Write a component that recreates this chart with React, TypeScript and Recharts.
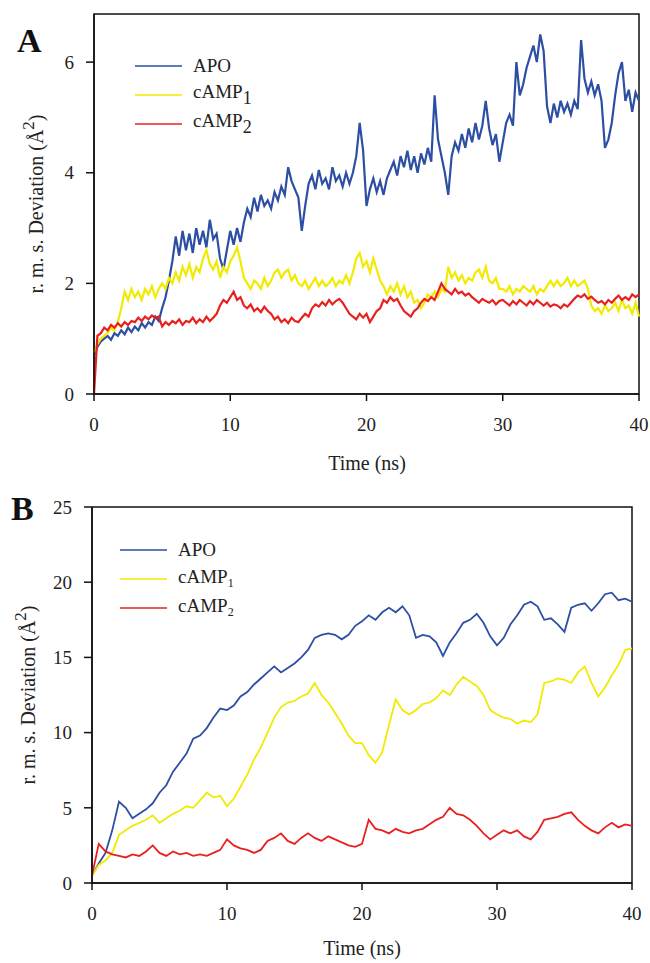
import { LineChart, Line, XAxis, YAxis, Legend, ReferenceArea, Label } from "recharts";

const FONT = "'Liberation Serif', 'Times New Roman', serif";
const BLUE = "#2c4fa3";
const YELLOW = "#f2ea00";
const RED = "#e8211f";

// panel A, sampled every 0.25 ns
const stepA = 0.25;
const apoA = [
  0.7, 0.85, 0.95, 1.0, 1.05, 0.98, 1.1, 1.05, 1.15, 1.08, 1.2, 1.12, 1.22, 1.15, 1.28, 1.2,
  1.3, 1.25, 1.4, 1.32, 1.55, 1.75, 2.05, 2.4, 2.85, 2.5, 2.95, 2.6, 2.9, 2.55, 3.0, 2.7,
  2.95, 2.65, 3.15, 2.8, 2.9, 2.45, 2.25, 2.6, 2.95, 2.7, 3.0, 2.75, 3.1, 3.35, 3.2, 3.55,
  3.3, 3.6, 3.4, 3.5, 3.35, 3.65, 3.5, 3.75, 3.6, 4.1, 3.85, 3.7, 3.55, 2.95, 3.4, 3.8,
  3.95, 3.7, 4.05, 3.8, 3.9, 3.7, 4.1, 3.85, 3.95, 3.75, 4.0, 3.8, 4.0, 4.3, 4.9, 4.4,
  3.4, 3.7, 3.9, 3.65, 3.85, 3.6, 3.9, 4.05, 4.2, 3.95, 4.3, 4.1, 4.4, 4.05, 4.3, 4.0,
  4.35, 4.15, 4.45, 4.2, 5.4, 4.6, 4.3, 4.0, 3.6, 4.3, 4.55, 4.4, 4.7, 4.45, 4.8, 4.55,
  4.9, 4.6, 4.85, 5.3, 4.8, 4.5, 4.7, 4.2, 4.55, 4.9, 5.05, 4.85, 6.0, 5.4, 5.6, 5.9,
  6.1, 6.3, 6.0, 6.5, 6.2, 5.2, 4.9, 5.25, 5.0, 5.3, 5.1, 5.25, 5.05, 5.3, 5.15, 6.4,
  5.7, 5.45, 5.65, 5.4, 5.6, 5.3, 4.45, 4.6, 4.9, 5.4, 5.8, 6.0, 5.3, 5.5, 5.1, 5.45,
  5.3,
];
const camp1A = [
  0.75, 0.9, 1.0, 1.05, 1.1, 1.2, 1.15, 1.3, 1.55, 1.85, 1.7, 1.9, 1.75, 1.85, 1.7, 1.9,
  1.8, 1.95, 1.75, 1.9, 2.0, 1.9, 2.1, 2.0, 2.2, 2.05, 2.3, 2.15, 2.35, 2.1, 2.3, 2.2,
  2.45, 2.6, 2.35, 2.25, 2.4, 2.1, 2.3, 2.2, 2.4, 2.5, 2.65, 2.4, 2.1, 2.0, 1.9, 2.05,
  2.0, 1.9, 2.1, 1.95, 2.05, 2.2, 2.25, 2.1, 2.2, 2.25, 2.05, 2.15, 2.0, 1.95, 2.05, 1.9,
  2.0, 2.1, 1.95, 2.05, 1.95, 2.0, 2.1, 1.95, 2.05, 2.0, 2.15, 2.0, 2.2, 2.45, 2.55, 2.3,
  2.4, 2.2, 2.45, 2.25, 2.05, 1.95, 1.8, 1.95, 1.85, 2.0, 1.8, 1.95, 1.75, 1.85, 1.65, 1.7,
  1.55, 1.65, 1.8, 1.75, 1.85, 1.75, 1.9, 1.85, 2.3, 2.1, 2.2, 2.05, 2.15, 2.0, 2.1, 2.05,
  2.2, 2.25, 2.1, 2.3, 2.05, 2.0, 2.1, 1.9, 1.9, 1.85, 1.95, 1.8, 1.9, 1.85, 1.95, 1.9,
  1.85, 1.95, 1.8, 1.9, 1.85, 1.95, 2.05, 1.95, 2.05, 1.95, 2.0, 2.1, 1.95, 2.05, 1.95, 2.0,
  2.05, 1.9, 1.6, 1.5, 1.55, 1.45, 1.6, 1.5, 1.55, 1.65, 1.5, 1.7, 1.55, 1.6, 1.45, 1.65,
  1.4,
];
const camp2A = [
  0.0, 1.05, 1.1, 1.2, 1.15, 1.25, 1.2, 1.28, 1.22, 1.3, 1.25, 1.32, 1.3, 1.38, 1.32, 1.4,
  1.35, 1.42, 1.38, 1.4, 1.22, 1.3, 1.25, 1.32, 1.28, 1.35, 1.25, 1.32, 1.3, 1.38, 1.28, 1.35,
  1.3, 1.4, 1.32, 1.38, 1.45, 1.6, 1.7, 1.65, 1.75, 1.85, 1.7, 1.75, 1.6, 1.55, 1.62, 1.5,
  1.55, 1.48, 1.58, 1.5, 1.45, 1.35, 1.4, 1.3, 1.35, 1.28, 1.38, 1.32, 1.3, 1.38, 1.45, 1.4,
  1.55, 1.62, 1.58, 1.66, 1.6, 1.7, 1.62, 1.68, 1.72, 1.65, 1.55, 1.45, 1.4, 1.35, 1.45, 1.38,
  1.45, 1.3, 1.4, 1.5, 1.55, 1.7, 1.65, 1.75, 1.68, 1.72, 1.6, 1.5, 1.45, 1.4, 1.5, 1.55,
  1.65, 1.72, 1.68, 1.75, 1.7, 1.85, 2.0, 1.9, 1.85, 1.8, 1.9, 1.82, 1.85, 1.78, 1.82, 1.75,
  1.7, 1.65, 1.72, 1.68, 1.65, 1.7, 1.62, 1.68, 1.7, 1.65, 1.6, 1.68, 1.62, 1.7, 1.65, 1.6,
  1.68, 1.62, 1.7, 1.65, 1.6, 1.65, 1.58, 1.62, 1.6, 1.55, 1.62, 1.58, 1.65, 1.72, 1.78, 1.75,
  1.8, 1.72, 1.76, 1.7, 1.65, 1.68, 1.62, 1.7, 1.65, 1.72, 1.78, 1.7, 1.75, 1.7, 1.8, 1.75,
  1.8,
];

// panel B, sampled every 0.5 ns
const stepB = 0.5;
const apoB = [
  0.5, 1.3, 2.0, 3.5, 5.4, 5.0, 4.3, 4.6, 4.9, 5.3, 6.0, 6.5, 7.4, 8.0, 8.6, 9.6,
  9.8, 10.3, 11.0, 11.6, 11.5, 11.8, 12.4, 12.7, 13.2, 13.6, 14.0, 14.4, 14.0, 14.3, 14.6, 15.0,
  15.5, 16.3, 16.5, 16.6, 16.5, 16.2, 16.5, 17.1, 17.4, 17.8, 17.5, 18.0, 18.3, 18.0, 18.4, 17.8,
  16.3, 16.5, 16.4, 16.0, 15.1, 16.0, 16.6, 17.3, 17.5, 17.9, 17.3, 16.4, 15.8, 16.3, 17.2, 17.8,
  18.5, 18.7, 18.4, 17.5, 17.6, 17.2, 16.7, 18.3, 18.5, 18.6, 18.1, 18.6, 19.2, 19.3, 18.8, 18.9,
  18.7,
];
const camp1B = [
  0.5, 1.2, 1.5, 2.0, 3.2, 3.5, 3.8, 4.0, 4.2, 4.5, 4.0, 4.3, 4.6, 4.8, 5.1, 5.0,
  5.5, 6.0, 5.7, 5.8, 5.1, 5.6, 6.4, 7.2, 8.2, 9.0, 10.0, 11.0, 11.7, 12.0, 12.1, 12.4,
  12.6, 13.3, 12.5, 12.0, 11.3, 10.6, 9.8, 9.3, 9.3, 8.5, 8.0, 8.7, 10.5, 12.2, 11.5, 11.2,
  11.5, 11.9, 12.0, 12.3, 12.8, 12.5, 13.2, 13.7, 13.4, 13.1, 12.5, 11.5, 11.2, 11.0, 10.9, 10.6,
  10.8, 10.7, 11.2, 13.3, 13.4, 13.6, 13.5, 13.3, 14.0, 14.4, 13.3, 12.4, 13.0, 13.8, 14.5, 15.5,
  15.6,
];
const camp2B = [
  0.5, 2.6, 2.1, 1.9, 1.8, 1.7, 1.9, 1.8, 2.1, 2.5, 2.0, 1.8, 2.1, 1.9, 2.0, 1.8,
  1.9, 1.8, 2.0, 2.2, 2.9, 2.5, 2.3, 2.2, 2.0, 2.2, 2.8, 3.0, 3.3, 2.8, 2.6, 3.0,
  3.3, 3.0, 2.8, 3.1, 2.9, 2.7, 2.5, 2.4, 2.6, 4.2, 3.6, 3.5, 3.3, 3.6, 3.4, 3.3,
  3.5, 3.6, 3.9, 4.2, 4.4, 5.0, 4.6, 4.5, 4.2, 3.8, 3.3, 2.9, 3.2, 3.5, 3.3, 3.5,
  3.1, 2.9, 3.4, 4.2, 4.3, 4.4, 4.6, 4.7, 4.2, 3.8, 3.5, 3.3, 3.7, 4.0, 3.7, 3.9,
  3.8,
];

const xTicks = [0, 10, 20, 30, 40];
const yTicksA = [0, 2, 4, 6];
const yTicksB = [0, 5, 10, 15, 20, 25];
const seriesKeys = ["apo", "camp1", "camp2"];
const seriesNames = ["APO", "cAMP", "cAMP"];
const seriesSubs = ["", "1", "2"];
const seriesColors = [BLUE, YELLOW, RED];

const buildRows = (step: number, a: number[], b: number[], c: number[]) =>
  a.map((v, i) => ({ t: i * step, apo: v, camp1: b[i], camp2: c[i] }));

const rowsA = buildRows(stepA, apoA, camp1A, camp2A);
const rowsB = buildRows(stepB, apoB, camp1B, camp2B);

const makeLegend = (smallSub: boolean) => (props: any) => (
  <div style={{ fontFamily: FONT }}>
    {(props.payload || []).map((p: any, i: number) => (
      <div key={i} style={{ display: "flex", alignItems: "center", height: 29 }}>
        <svg width={47} height={4}>
          <line x1={0} y1={2} x2={47} y2={2} stroke={p.color} strokeWidth={1.5} />
        </svg>
        <span style={{ marginLeft: 11, fontSize: 19, color: "#222", whiteSpace: "nowrap" }}>
          {seriesNames[i]}
          {seriesSubs[i] && (
            <sub style={{ fontSize: smallSub ? 12 : 18, verticalAlign: smallSub ? "-4px" : "-6px" }}>
              {seriesSubs[i]}
            </sub>
          )}
        </span>
      </div>
    ))}
  </div>
);

const yLabel = (cx: number, cy: number) => () => (
  <text
    x={cx}
    y={cy}
    transform={`rotate(-90 ${cx} ${cy})`}
    textAnchor="middle"
    dominantBaseline="middle"
    fontFamily={FONT}
    fontSize={20}
    fill="#222"
  >
    <tspan>r. m. s. Deviation (Å</tspan>
    <tspan dy={-8} fontSize={17}>2</tspan>
    <tspan dy={8}>)</tspan>
  </text>
);

const xLabel = (cx: number, cy: number) => () => (
  <text x={cx} y={cy} textAnchor="middle" dominantBaseline="middle" fontFamily={FONT} fontSize={20} fill="#222">
    Time (ns)
  </text>
);

type PanelProps = {
  rows: any[];
  yMax: number;
  yTicks: number[];
  margin: { top: number; right: number; bottom: number; left: number };
  legendPos: { left: number; top: number };
  yLab: [number, number];
  xLab: [number, number];
  smallSub: boolean;
  lineWidth: number;
};

const Panel = ({ rows, yMax, yTicks, margin, legendPos, yLab, xLab, smallSub, lineWidth }: PanelProps) => (
  <LineChart width={650} height={480} data={rows} margin={margin} style={{ fontFamily: FONT }}>
    <ReferenceArea x1={0} x2={40} y1={0} y2={yMax} fill="none" stroke="#111" strokeWidth={1.5} ifOverflow="extendDomain" />
    <XAxis
      dataKey="t"
      type="number"
      domain={[0, 40]}
      ticks={xTicks}
      height={50}
      axisLine={{ stroke: "#111", strokeWidth: 1.5 }}
      tickLine={{ stroke: "#111", strokeWidth: 1.5 }}
      tickSize={7}
      tickMargin={17}
      tick={{ fontSize: 19, fill: "#222", fontFamily: FONT }}
    >
      <Label content={xLabel(xLab[0], xLab[1])} />
    </XAxis>
    <YAxis
      type="number"
      domain={[0, yMax]}
      ticks={yTicks}
      width={40}
      axisLine={{ stroke: "#111", strokeWidth: 1.5 }}
      tickLine={{ stroke: "#111", strokeWidth: 1.5 }}
      tickSize={8}
      tickMargin={12}
      tick={{ fontSize: 19, fill: "#222", fontFamily: FONT }}
    >
      <Label content={yLabel(yLab[0], yLab[1])} />
    </YAxis>
    <Legend
      layout="vertical"
      align="center"
      verticalAlign="middle"
      content={makeLegend(smallSub)}
      wrapperStyle={{ left: legendPos.left, top: legendPos.top, width: 160 }}
    />
    {seriesKeys.map((k, i) => (
      <Line
        key={k}
        type="linear"
        dataKey={k}
        name={seriesNames[i] + seriesSubs[i]}
        stroke={seriesColors[i]}
        strokeWidth={lineWidth}
        dot={false}
        isAnimationActive={false}
      />
    ))}
  </LineChart>
);

export default function App() {
  return (
    <div style={{ position: "absolute", left: 0, top: 0, width: 650, height: 963, background: "#fff", fontFamily: FONT }}>
      <div style={{ position: "absolute", left: 0, top: 0 }}>
        <Panel
          rows={rowsA}
          yMax={6.87}
          yTicks={yTicksA}
          margin={{ top: 14, right: 11, bottom: 36, left: 54 }}
          legendPos={{ left: 135, top: 51 }}
          yLab={[38, 204]}
          xLab={[367, 465]}
          smallSub={false}
          lineWidth={2.2}
        />
      </div>
      <div style={{ position: "absolute", left: 0, top: 480 }}>
        <Panel
          rows={rowsB}
          yMax={25}
          yTicks={yTicksB}
          margin={{ top: 27, right: 18, bottom: 27, left: 52 }}
          legendPos={{ left: 120, top: 55 }}
          yLab={[30, 215]}
          xLab={[362, 470]}
          smallSub={true}
          lineWidth={1.8}
        />
      </div>
      <div style={{ position: "absolute", left: 17, top: 22, fontSize: 34, fontWeight: "bold", color: "#111" }}>A</div>
      <div style={{ position: "absolute", left: 11, top: 490, fontSize: 34, fontWeight: "bold", color: "#111" }}>B</div>
    </div>
  );
}
